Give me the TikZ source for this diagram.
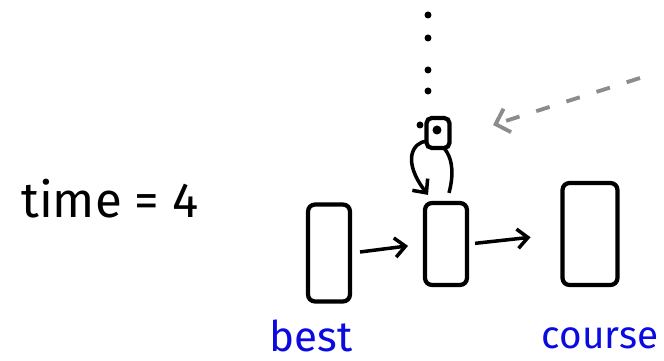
\documentclass[tikz,border=0pt]{standalone}
\usepackage{fontspec}
\setmainfont{Fira Sans}
\usetikzlibrary{arrows.meta,calc}
\definecolor{inkblue}{RGB}{10,10,225}
\definecolor{inkgray}{RGB}{140,140,140}
\tikzset{
  cell/.style={draw, line width=2.4pt, rounded corners=4pt, inner sep=0pt},
  link/.style={-{Straight Barb[length=6pt,width=11pt]}, line width=2pt},
  tag/.style={text=inkblue, font=\fontsize{24}{28}\selectfont},
  dot/.style={circle, fill, inner sep=0pt, minimum size=0.14cm}
}
\begin{document}
\begin{tikzpicture}[x=0.02cm, y=-0.02cm]
  \useasboundingbox (0,0) rectangle (664,361);

  %% Cells
  \node[cell, minimum width=0.84cm, minimum height=1.94cm] (best) at (329,253) {};
  \node[cell, minimum width=0.84cm, minimum height=1.64cm] (mid) at (446,244) {};
  \node[cell, minimum width=1.10cm, minimum height=2.04cm] (course) at (590,234) {};

  %% Labels
  \node[tag] (bestlbl) at (311,336) {best};
  \node[tag, font=\fontsize{22}{26}\selectfont] (courselbl) at (600,338) {course};
  \node[font=\fontsize{28}{32}\selectfont] (time) at (110,199) {time = 4};

  %% Links
  \draw[link, shorten <=0.16cm, shorten >=0.3cm] (best.east) -- (mid.west);
  \draw[link, shorten <=0.12cm, shorten >=0.6cm] (mid.east) -- (course.west);

  %% Self loop
  \draw[link] ($(mid.north)+(3,-8)$) .. controls +(20,-75) and +(-50,-65) .. ($(mid.north)+(-18,-6)$);

  %% Agent
  \node[draw, line width=2.4pt, rounded corners=3pt, minimum width=0.46cm, minimum height=0.6cm, inner sep=0pt, fill=white] (agent) at (438,133) {};
  \node[dot, minimum size=0.18cm] (eye) at (437,130) {};
  \node[dot] (side) at (420,125) {};

  %% Trail of dots
  \foreach \y [count=\i] in {15,38,70,91}
    \node[dot] (trail\i) at (428,\y) {};

  %% Gray incoming arrow
  \coordinate (gfrom) at (640,78);
  \coordinate (gto) at (493,125);
  \draw[inkgray, line width=2.2pt, dash pattern=on 8pt off 10pt, -{Straight Barb[length=7pt,width=14pt]}] (gfrom) -- (gto);
\end{tikzpicture}
\end{document}
